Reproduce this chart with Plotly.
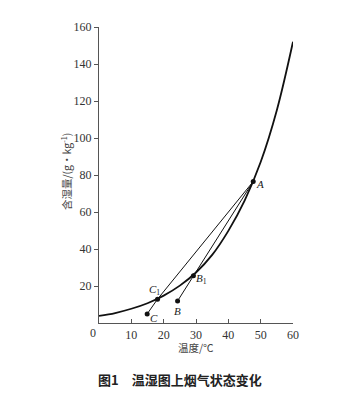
import plotly.graph_objects as go

# Saturation curve (temperature °C, humidity ratio g/kg)
sat_t = [0, 5, 10, 15, 20, 25, 30, 35, 40, 45, 50, 55, 60]
sat_w = [3.8, 5.4, 7.7, 10.7, 14.8, 20.2, 27.3, 36.8, 49.8, 66.0, 87.0, 115.0, 152.0]

# State points
pt_names = ["A", "B1", "B", "C1", "C"]
pt_t = [47.7, 29.2, 24.3, 18.1, 14.9]
pt_w = [76.5, 25.5, 11.9, 12.9, 4.9]

# Process lines
line_c_t = [14.9, 18.1, 47.7]
line_c_w = [4.9, 12.9, 76.5]
line_b_t = [24.3, 29.2, 47.7]
line_b_w = [11.9, 25.5, 76.5]

x_ticks = [0, 10, 20, 30, 40, 50, 60]
y_ticks = [20, 40, 60, 80, 100, 120, 140, 160]

fig = go.Figure()
fig.add_trace(go.Scatter(x=sat_t, y=sat_w, mode="lines", line=dict(color="#111", width=1.8, shape="spline"), hoverinfo="skip"))
fig.add_trace(go.Scatter(x=line_c_t, y=line_c_w, mode="lines", line=dict(color="#111", width=1), hoverinfo="skip"))
fig.add_trace(go.Scatter(x=line_b_t, y=line_b_w, mode="lines", line=dict(color="#111", width=1), hoverinfo="skip"))
fig.add_trace(go.Scatter(x=pt_t, y=pt_w, mode="markers", marker=dict(color="#111", size=5), hoverinfo="skip"))

label_text = {"A": "<i>A</i>", "B1": "<i>B</i><sub>1</sub>", "B": "<i>B</i>", "C1": "<i>C</i><sub>1</sub>", "C": "<i>C</i>"}
label_off = {"A": (7, -3), "B1": (8, -3), "B": (0, -10), "C1": (-3, 9), "C": (7, -4)}
for n, t, w in zip(pt_names, pt_t, pt_w):
    dx, dy = label_off[n]
    fig.add_annotation(x=t, y=w, text=label_text[n], showarrow=False, xshift=dx, yshift=dy,
                       font=dict(family="Liberation Serif", size=11, color="#222"))

serif = dict(family="Liberation Serif", size=12, color="#333")
fig.update_layout(
    width=358, height=398,
    margin=dict(l=91, r=73, t=15, b=83),
    paper_bgcolor="white", plot_bgcolor="white",
    showlegend=False,
    xaxis=dict(range=[0, 60], tickvals=x_ticks[1:], ticks="inside", ticklen=4, tickcolor="#555",
               showline=True, linecolor="#555", linewidth=1.2, showgrid=False, zeroline=False,
               tickfont=serif),
    yaxis=dict(range=[0, 160], tickvals=y_ticks, ticks="outside", ticklen=4, tickcolor="#555",
               showline=True, linecolor="#555", linewidth=1.2, showgrid=False, zeroline=False,
               tickfont=serif),
)
fig.add_annotation(x=0, y=0, xref="x", yref="y", text="0", showarrow=False, xshift=-6, yshift=-10,
                   font=serif)
fig.add_annotation(x=-0.17, y=0.51, xref="paper", yref="paper", xanchor="center", yanchor="middle",
                   text="含湿量/(g・kg<sup>-1</sup>)",
                   textangle=-90, showarrow=False, font=dict(family="Noto Sans CJK SC", size=10.5, color="#444"))
fig.add_annotation(x=0.5, y=-0.052, xref="paper", yref="paper", xanchor="center", yanchor="top",
                   text="温度/℃",
                   showarrow=False, font=dict(family="Noto Sans CJK SC", size=10.5, color="#444"))
fig.add_annotation(x=0.418, y=-0.153, xref="paper", yref="paper", xanchor="center", yanchor="top",
                   text="<b>图1　温湿图上烟气状态变化</b>",
                   showarrow=False, font=dict(family="Noto Sans CJK SC", size=13, color="#222"))

fig.write_html("out.html")
